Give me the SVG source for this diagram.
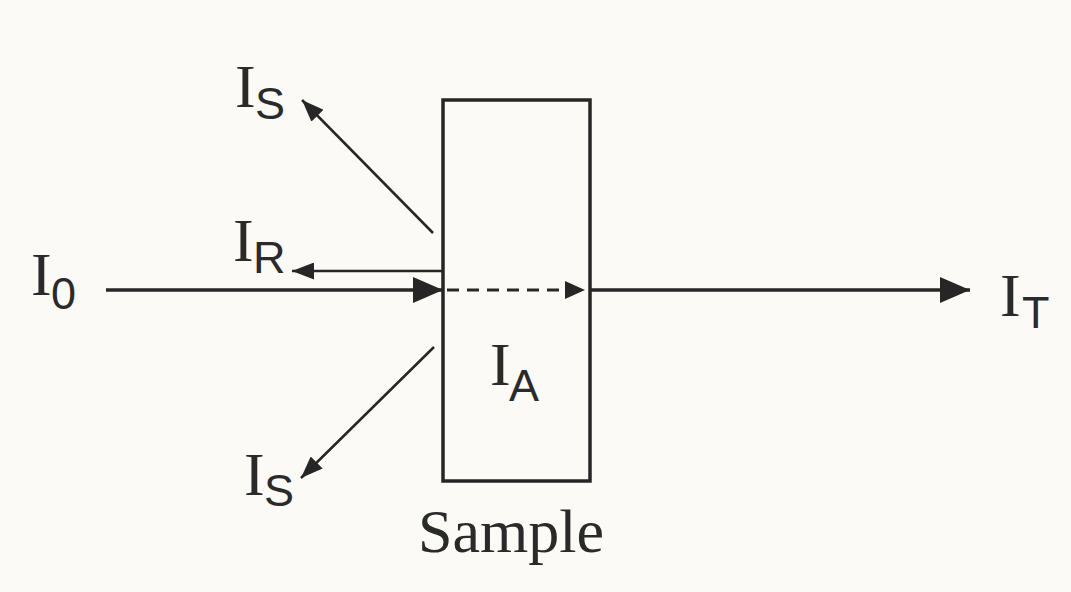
<svg xmlns="http://www.w3.org/2000/svg" width="1071" height="592" viewBox="0 0 1071 592">
<defs>
<style>
.ln{stroke:#262626;fill:none}
.serif{font-family:"Liberation Serif","Times New Roman",serif;fill:#2a2a2a}
.sans{font-family:"Liberation Sans",Arial,sans-serif;fill:#2a2a2a}
.big{font-size:62px}
.sub{font-size:45px}
</style>
<marker id="ahBig" markerUnits="userSpaceOnUse" viewBox="0 0 30 26" refX="30" refY="13" markerWidth="30" markerHeight="26" orient="auto"><path d="M0,0 L30,13 L0,26 Z" fill="#262626"/></marker>
<marker id="ahMid" markerUnits="userSpaceOnUse" viewBox="0 0 20 18" refX="20" refY="9" markerWidth="20" markerHeight="18" orient="auto"><path d="M0,0 L20,9 L0,18 Z" fill="#262626"/></marker>
<marker id="ahSmall" markerUnits="userSpaceOnUse" viewBox="0 0 22 17" refX="22" refY="8.5" markerWidth="22" markerHeight="17" orient="auto"><path d="M0,0 L22,8.5 L0,17 Z" fill="#262626"/></marker>
</defs>
<rect width="1071" height="592" fill="#fbfaf6"/>
<g id="sample">
<rect x="443" y="100" width="147" height="381" class="ln" stroke-width="3.5"/>
<text x="511" y="552" class="serif" font-size="62" text-anchor="middle">Sample</text>
</g>
<g id="connectors">
<line x1="106" y1="290" x2="443" y2="290" class="ln" stroke-width="3.5" marker-end="url(#ahBig)"/>
<line x1="447" y1="290" x2="585" y2="290" class="ln" stroke-width="3" stroke-dasharray="12,8" marker-end="url(#ahMid)"/>
<line x1="590" y1="290" x2="970" y2="290" class="ln" stroke-width="3.5" marker-end="url(#ahBig)"/>
<line x1="443" y1="271" x2="292" y2="271" class="ln" stroke-width="2.5" marker-end="url(#ahSmall)"/>
<line x1="433" y1="233" x2="302" y2="100" class="ln" stroke-width="2.5" marker-end="url(#ahSmall)"/>
<line x1="434" y1="347" x2="301" y2="478" class="ln" stroke-width="2.5" marker-end="url(#ahSmall)"/>
</g>
<g id="label-I0">
<text x="31" y="295" class="serif big">I</text>
<text x="51" y="309" class="sans sub">0</text>
</g>
<g id="label-IS-top">
<text x="235" y="107" class="serif big">I</text>
<text x="255" y="119" class="sans sub">S</text>
</g>
<g id="label-IR">
<text x="233" y="261" class="serif big">I</text>
<text x="253" y="273" class="sans sub">R</text>
</g>
<g id="label-IA">
<text x="490" y="385" class="serif big">I</text>
<text x="509" y="401" class="sans sub">A</text>
</g>
<g id="label-IS-bottom">
<text x="244" y="495" class="serif big">I</text>
<text x="264" y="506" class="sans sub">S</text>
</g>
<g id="label-IT">
<text x="1000" y="316" class="serif big">I</text>
<text x="1022" y="328" class="sans sub">T</text>
</g>
</svg>
